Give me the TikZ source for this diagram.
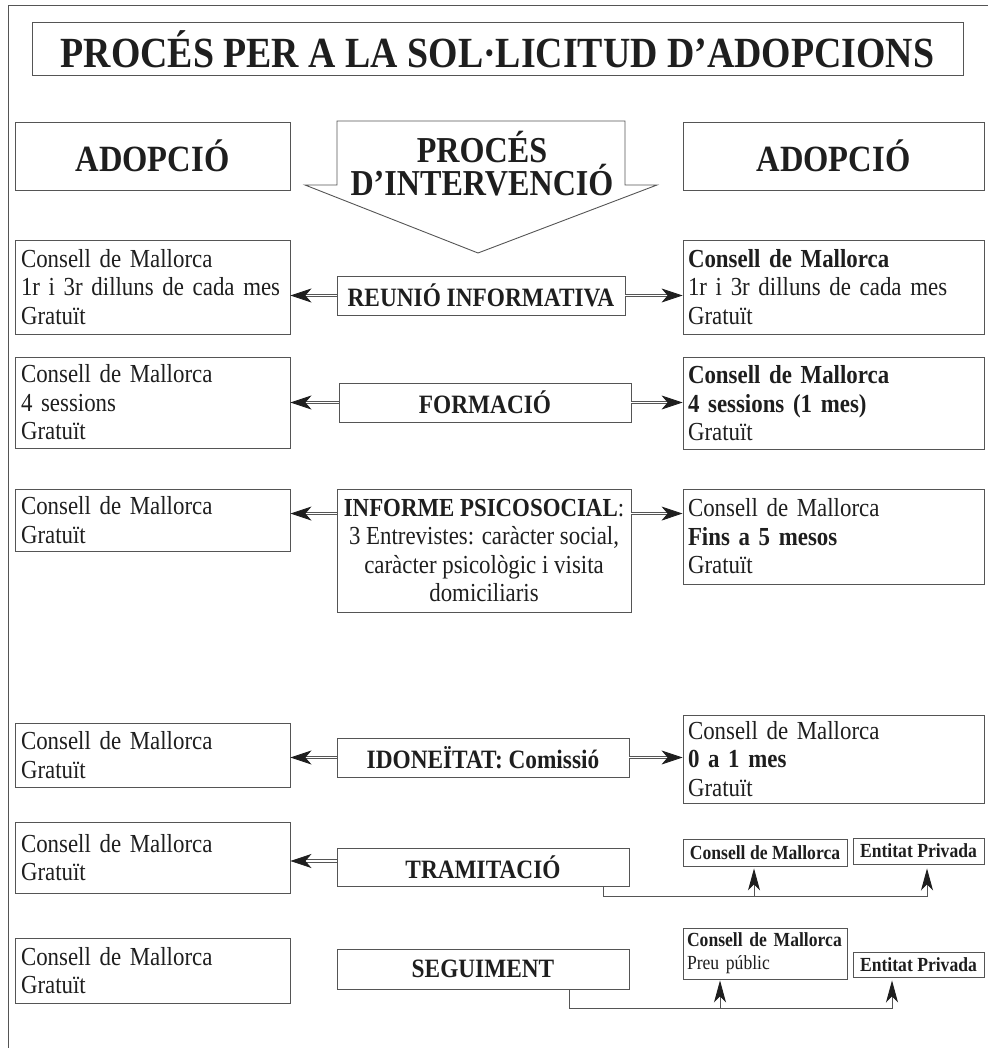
\documentclass[tikz,border=0pt]{standalone}
\usepackage{fontspec}
\setmainfont{Liberation Serif}[FakeStretch=0.88]
\usetikzlibrary{arrows.meta}
\definecolor{linegray}{RGB}{85, 85, 85}
\definecolor{textdark}{RGB}{30, 30, 30}
\lineskiplimit=-50pt

\begin{document}
\begin{tikzpicture}[
    x=1pt, y=-1pt,
    every node/.style={text=textdark},
    outline/.style={draw=linegray, line width=0.9pt},
    box/.style={rectangle, outline, inner sep=0pt, font=\fontsize{26}{28.5}\selectfont},
    infobox/.style={box, minimum width=275pt, text width=263pt, align=left},
    costbox/.style={box, minimum width=301pt, text width=291pt, align=left},
    stepbox/.style={box, minimum height=39pt, align=center, font=\fontsize{26.5}{28.5}\selectfont\bfseries},
    headbox/.style={box, minimum height=68pt, font=\fontsize{37}{31}\selectfont\bfseries},
    smallbox/.style={box, minimum height=26pt, font=\fontsize{20}{23}\selectfont\bfseries},
    dblarrow/.style={-{Stealth[length=21pt, width=14pt, inset=6pt, color=textdark]}, draw=linegray, line width=0.8pt, double=white, double distance=1.6pt},
    uparrow/.style={-{Stealth[length=22pt, width=12pt, inset=6pt, color=textdark]}, outline},
]
\useasboundingbox (0,0) rectangle (988,1048);

% Frame
\draw[outline] (8,1048) -- (8,5) -- (988,5);

% Title
\node[box, minimum width=931pt, minimum height=53pt, font=\fontsize{43}{45}\selectfont\bfseries] (title) at (497.5,49) {PROCÉS PER A LA SOL·LICITUD D’ADOPCIONS};

% Headers
\node[headbox, minimum width=275pt] (adoptL) at (152.5,156) {ADOPCIÓ};
\node[headbox, minimum width=301pt] (adoptR) at (833.5,156) {ADOPCIÓ};
\draw[outline] (337,121) -- (337,185) -- (305,185) -- (478,253) -- (657,185) -- (625,185) -- (625,121) -- cycle;
\node[inner sep=0pt, align=center, font=\fontsize{36.5}{33}\selectfont\bfseries] (proces) at (482,164) {PROCÉS\\D’INTERVENCIÓ};

% Reunio informativa
\node[infobox, minimum height=94pt] (reunioL) at (152.5,287) {Consell de Mallorca\\1r i 3r dilluns de cada mes\\Gratuït};
\node[stepbox, minimum width=288pt] (reunio) at (481,295.5) {REUNIÓ INFORMATIVA};
\node[costbox, minimum height=94pt] (reunioR) at (833.5,287) {\textbf{Consell de Mallorca}\\1r i 3r dilluns de cada mes\\Gratuït};

% Formacio
\node[infobox, minimum height=91pt] (formacioL) at (152.5,402.5) {Consell de Mallorca\\4 sessions\\Gratuït};
\node[stepbox, minimum width=292pt] (formacio) at (485,402.5) {FORMACIÓ};
\node[costbox, minimum height=92pt] (formacioR) at (833.5,403.5) {\textbf{Consell de Mallorca}\\\textbf{4 sessions (1 mes)}\\Gratuït};

% Informe psicosocial
\node[infobox, minimum height=62pt] (psicoL) at (152.5,520) {Consell de Mallorca\\Gratuït};
\node[stepbox, minimum width=294pt, minimum height=123pt, font=\fontsize{26}{28.5}\selectfont] (psico) at (484,550.5) {\textbf{INFORME PSICOSOCIAL}:\\3 Entrevistes: caràcter social,\\caràcter psicològic i visita\\domiciliaris};
\node[costbox, minimum height=95pt] (psicoR) at (833.5,536.5) {Consell de Mallorca\\\textbf{Fins a 5 mesos}\\Gratuït};

% Idoneitat
\node[infobox, minimum height=64pt] (idoneitatL) at (152.5,755) {Consell de Mallorca\\Gratuït};
\node[stepbox, minimum width=292pt] (idoneitat) at (483,757.5) {IDONEÏTAT: Comissió};
\node[costbox, minimum height=88pt] (idoneitatR) at (833.5,759) {Consell de Mallorca\\\textbf{0 a 1 mes}\\Gratuït};

% Tramitacio
\node[infobox, minimum height=71pt] (tramitacioL) at (152.5,857.5) {Consell de Mallorca\\Gratuït};
\node[stepbox, minimum width=292pt, minimum height=38pt] (tramitacio) at (483,867) {TRAMITACIÓ};
\node[smallbox, minimum width=164pt, minimum height=27pt] (tramCM) at (765,852.5) {Consell de Mallorca};
\node[smallbox, minimum width=131pt] (tramEP) at (918.5,851) {Entitat Privada};

% Seguiment
\node[infobox, minimum height=65pt] (seguimentL) at (152.5,970.5) {Consell de Mallorca\\Gratuït};
\node[stepbox, minimum width=292pt, minimum height=40pt] (seguiment) at (483,969) {SEGUIMENT};
\node[smallbox, minimum width=164pt, minimum height=51pt, text width=156pt, align=left] (segCM) at (765,953.5) {Consell de Mallorca\\\mdseries Preu públic};
\node[smallbox, minimum width=131pt, minimum height=25pt] (segEP) at (918.5,964.5) {Entitat Privada};

% Arrows
\draw[dblarrow] (reunio.west) -- (reunio.west -| reunioL.east);
\draw[dblarrow] (reunio.east) -- (reunio.east -| reunioR.west);
\draw[dblarrow] (formacio.west) -- (formacio.west -| formacioL.east);
\draw[dblarrow] (formacio.east) -- (formacio.east -| formacioR.west);
\coordinate (psicoArrow) at ([yshift=-25pt]psico.north west);
\draw[dblarrow] (psicoArrow) -- (psicoArrow -| psicoL.east);
\draw[dblarrow] (psicoArrow -| psico.east) -- (psicoArrow -| psicoR.west);
\draw[dblarrow] (idoneitat.west) -- (idoneitat.west -| idoneitatL.east);
\draw[dblarrow] (idoneitat.east) -- (idoneitat.east -| idoneitatR.west);
\coordinate (tramArrow) at ([yshift=6pt]tramitacio.west);
\draw[dblarrow] (tramArrow) -- (tramArrow -| tramitacioL.east);

% Branches
\coordinate (tramDrop) at ([xshift=120pt]tramitacio.south);
\coordinate (tramBus) at ([yshift=-10pt]tramDrop);
\coordinate (tramCMtip) at ([xshift=-11pt, yshift=-2pt]tramCM.south);
\draw[uparrow] (tramDrop) -- (tramBus) -| ([xshift=8.5pt, yshift=-4pt]tramEP.south);
\draw[uparrow] (tramBus -| tramCMtip) -- (tramCMtip);
\coordinate (segDrop) at ([xshift=86pt]seguiment.south);
\coordinate (segBus) at ([yshift=-19pt]segDrop);
\coordinate (segCMtip) at ([xshift=-45pt, yshift=-1pt]segCM.south);
\draw[uparrow] (segDrop) -- (segBus) -| ([xshift=-26.5pt, yshift=-3pt]segEP.south);
\draw[uparrow] (segBus -| segCMtip) -- (segCMtip);

\end{tikzpicture}
\end{document}
